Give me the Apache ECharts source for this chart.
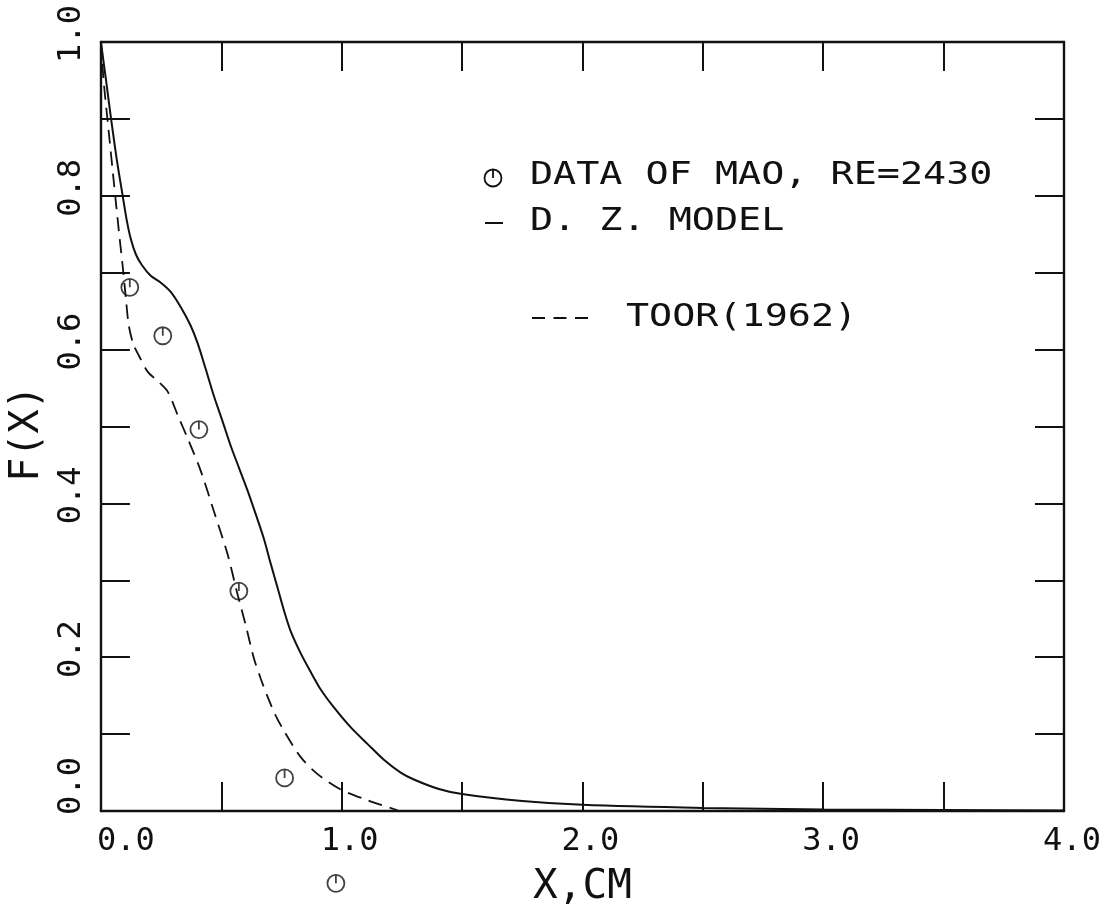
<!DOCTYPE html>
<html>
<head>
<meta charset="utf-8">
<title>F(X) vs X</title>
<script src="https://cdn.jsdelivr.net/npm/echarts@6/dist/echarts.min.js"></script>
<style>
html, body {
	margin: 0;
	padding: 0;
	background: #fff;
}

#chart {
	width: 1108px;
	height: 913px;
}
</style>
</head>
<body>
	<div id="chart"></div>
	<script>
		// data: [x (cm), F(X)]
		var maoData = [
			[0.120, 0.681], [0.257, 0.618], [0.407, 0.496],
			[0.573, 0.286], [0.763, 0.043], [0.976, -0.094]
		];
		var dzModel = [
			[0, 1.0], [0.021, 0.951], [0.041, 0.903], [0.066, 0.847], [0.091, 0.799],
			[0.108, 0.767], [0.124, 0.744], [0.145, 0.724], [0.170, 0.710], [0.207, 0.696],
			[0.249, 0.687], [0.290, 0.675], [0.332, 0.655], [0.373, 0.631], [0.402, 0.608],
			[0.435, 0.575], [0.469, 0.540], [0.505, 0.507], [0.539, 0.475], [0.575, 0.445],
			[0.610, 0.416], [0.643, 0.386], [0.676, 0.355], [0.705, 0.322], [0.734, 0.290],
			[0.760, 0.261], [0.788, 0.234], [0.830, 0.205], [0.871, 0.181], [0.913, 0.158],
			[0.967, 0.135], [1.037, 0.109], [1.108, 0.087], [1.174, 0.067], [1.245, 0.050],
			[1.30, 0.041], [1.40, 0.029], [1.50, 0.022], [1.75, 0.013], [2.0, 0.008],
			[2.5, 0.004], [3.0, 0.002], [3.5, 0.0012], [4.0, 0.0008]
		];
		var toor = [
			[0, 1.0], [0.012, 0.947], [0.033, 0.882], [0.054, 0.817], [0.075, 0.753],
			[0.090, 0.710], [0.104, 0.666], [0.116, 0.631], [0.135, 0.607], [0.158, 0.592],
			[0.195, 0.571], [0.24, 0.558], [0.278, 0.545], [0.320, 0.514], [0.361, 0.484],
			[0.415, 0.442], [0.469, 0.390], [0.527, 0.333], [0.564, 0.286], [0.602, 0.241],
			[0.635, 0.199], [0.664, 0.172], [0.693, 0.148], [0.726, 0.124], [0.759, 0.105],
			[0.830, 0.070], [0.900, 0.048], [0.996, 0.028], [1.108, 0.014], [1.232, 0.001]
		];
		var legendLabels = ['DATA OF MAO, RE=2430', 'D. Z. MODEL', 'TOOR(1962)'];

		var font = 'DejaVu Sans Mono';
		var ink = '#111';

		var markerPath = 'path://M0,-10A10,10,0,1,1,0,10A10,10,0,1,1,0,-10ZM0,-10L0,0';

		function xLabel(v) {
			if (Math.abs(v - Math.round(v)) > 1e-6) return '';
			return v === 0 ? '{z|0.0}' : '{n|' + v.toFixed(1) + '}';
		}
		function yLabel(v) {
			if (Math.abs(v * 5 - Math.round(v * 5)) > 1e-6) return '';
			return Math.abs(v) < 1e-6 ? '{z|0.0}' : '{n|' + v.toFixed(1) + '}';
		}

		var labelRich = {
			z: { fontFamily: font, fontSize: 32, color: ink, padding: [0, 0, 0, 50] },
			n: { fontFamily: font, fontSize: 32, color: ink, padding: [0, 0, 0, 16] }
		};
		var axisLine = { show: true, onZero: false, lineStyle: { color: ink, width: 2.4 } };
		var tick = { show: true, inside: true, length: 29, lineStyle: { color: ink, width: 2 } };

		var chart = echarts.init(document.getElementById('chart'));
		var option = {
			animation: false,
			backgroundColor: '#fff',
			grid: { left: 100, right: 44, top: 42, bottom: 99, containLabel: false },
			xAxis: [{
				type: 'value', min: 0, max: 4, interval: 0.5, position: 'bottom',
				axisLine: axisLine,
				axisTick: tick,
				splitLine: { show: false },
				axisLabel: { formatter: xLabel, rich: labelRich, margin: 15, fontFamily: font, fontSize: 32, color: ink },
				name: 'X,CM', nameLocation: 'middle', nameGap: 56,
				nameTextStyle: { fontFamily: font, fontSize: 41, color: ink }
			}, {
				type: 'value', min: 0, max: 4, interval: 0.5, position: 'top',
				axisLine: axisLine,
				axisTick: tick,
				splitLine: { show: false },
				axisLabel: { show: false }
			}],
			yAxis: [{
				type: 'value', min: 0, max: 1, interval: 0.1, position: 'left',
				axisLine: axisLine,
				axisTick: tick,
				splitLine: { show: false },
				axisLabel: { formatter: yLabel, rich: labelRich, rotate: 90, margin: 13, fontFamily: font, fontSize: 32, color: ink },
				name: 'F(X)', nameLocation: 'middle', nameGap: 50, nameRotate: 90,
				nameTextStyle: { fontFamily: font, fontSize: 40, color: ink, padding: [0, 14, 0, 0] }
			}, {
				type: 'value', min: 0, max: 1, interval: 0.1, position: 'right',
				axisLine: axisLine,
				axisTick: tick,
				splitLine: { show: false },
				axisLabel: { show: false }
			}],
			series: [{
				name: legendLabels[1], type: 'line', data: dzModel,
				showSymbol: false, smooth: 0.3, clip: true,
				lineStyle: { color: ink, width: 2 }
			}, {
				name: legendLabels[2], type: 'line', data: toor,
				showSymbol: false, smooth: 0.3, clip: true,
				lineStyle: { color: ink, width: 1.8, type: [14, 8] }
			}, {
				name: legendLabels[0], type: 'scatter', data: maoData,
				symbol: markerPath, symbolSize: 17, clip: false,
				itemStyle: { color: 'transparent', borderColor: ink, borderWidth: 1.8 }
			}],
			graphic: [
				{ type: 'circle', shape: { cx: 493, cy: 178, r: 8.5 }, style: { fill: 'none', stroke: ink, lineWidth: 1.8 } },
				{ type: 'line', shape: { x1: 493, y1: 169.5, x2: 493, y2: 178 }, style: { stroke: ink, lineWidth: 1.8 } },
				{ type: 'text', x: 530, y: 176, scaleX: 1.2,
					style: { text: legendLabels[0], fontFamily: font, fontSize: 32, fill: ink, verticalAlign: 'middle' } },
				{ type: 'line', shape: { x1: 485, y1: 223, x2: 503, y2: 223 }, style: { stroke: ink, lineWidth: 2 } },
				{ type: 'text', x: 530, y: 222, scaleX: 1.2,
					style: { text: legendLabels[1], fontFamily: font, fontSize: 32, fill: ink, verticalAlign: 'middle' } },
				{ type: 'line', shape: { x1: 532, y1: 318, x2: 588, y2: 318 }, style: { stroke: ink, lineWidth: 2, lineDash: [13, 8.5] } },
				{ type: 'text', x: 626, y: 318, scaleX: 1.2,
					style: { text: legendLabels[2], fontFamily: font, fontSize: 32, fill: ink, verticalAlign: 'middle' } }
			]
		};
		chart.setOption(option);
	</script>
</body>
</html>
